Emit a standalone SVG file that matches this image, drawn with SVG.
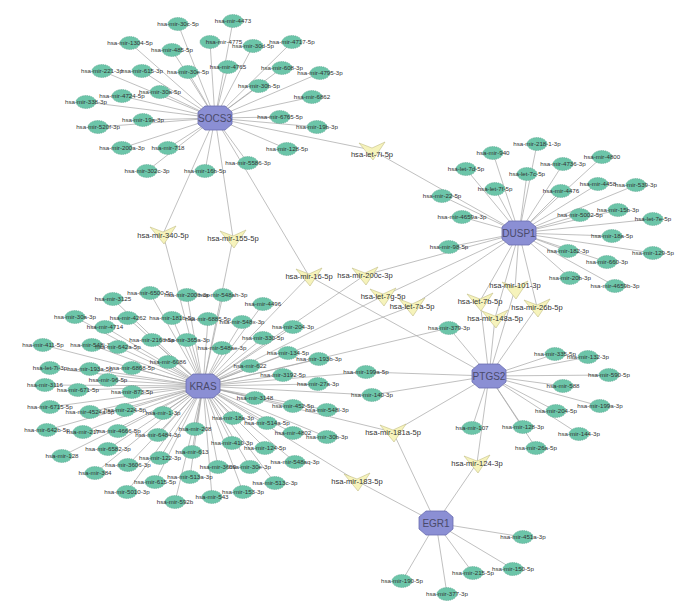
<svg xmlns="http://www.w3.org/2000/svg" xmlns:xlink="http://www.w3.org/1999/xlink" width="686" height="607" viewBox="0 0 686 607">
<style>
.e line{stroke:#a5a5a5;stroke-width:0.7}
.m{fill:#6cc5a9;stroke:#4f9e86;stroke-width:0.6;stroke-dasharray:1.3 0.9}
.h{fill:#8b8fd4;stroke:#6a6db0;stroke-width:0.8}
.y{fill:#f6f3bb;stroke:#c3bd86;stroke-width:0.6}
.t{font-family:"Liberation Sans",Arial,sans-serif;font-size:6.2px;fill:#333;text-anchor:middle}
.ty{font-family:"Liberation Sans",Arial,sans-serif;font-size:7.6px;fill:#333;text-anchor:middle}
.th{font-family:"Liberation Sans",Arial,sans-serif;font-size:10px;fill:#4a4a6a;text-anchor:middle}
</style>
<defs>
<ellipse id="gm" class="m" rx="10" ry="6.5"/>
<polygon id="oc" class="h" points="-17,-6 -10,-12 10,-12 17,-6 17,6 10,12 -10,12 -17,6"/>
<polygon id="tv" class="y" points="-13,-7 0,-2 13,-8 1,10"/>
</defs>
<rect width="686" height="607" fill="#fff"/>
<g id="connectors" class="e">
<line x1="215" y1="118" x2="178" y2="24"/><line x1="215" y1="118" x2="233" y2="21"/><line x1="215" y1="118" x2="130" y2="43"/><line x1="215" y1="118" x2="172" y2="50"/><line x1="215" y1="118" x2="210" y2="42"/><line x1="215" y1="118" x2="253" y2="46"/><line x1="215" y1="118" x2="292" y2="42"/><line x1="215" y1="118" x2="102" y2="71"/><line x1="215" y1="118" x2="142" y2="71"/><line x1="215" y1="118" x2="188" y2="72"/><line x1="215" y1="118" x2="228" y2="67"/><line x1="215" y1="118" x2="282" y2="68"/><line x1="215" y1="118" x2="320" y2="73"/><line x1="215" y1="118" x2="122" y2="96"/><line x1="215" y1="118" x2="160" y2="92"/><line x1="215" y1="118" x2="259" y2="86"/><line x1="215" y1="118" x2="86" y2="102"/><line x1="215" y1="118" x2="312" y2="97"/><line x1="215" y1="118" x2="280" y2="117"/><line x1="215" y1="118" x2="143" y2="120"/><line x1="215" y1="118" x2="98" y2="127"/><line x1="215" y1="118" x2="317" y2="127"/><line x1="215" y1="118" x2="122" y2="148"/><line x1="215" y1="118" x2="168" y2="148"/><line x1="215" y1="118" x2="287" y2="149"/><line x1="215" y1="118" x2="248" y2="163"/><line x1="215" y1="118" x2="147" y2="171"/><line x1="215" y1="118" x2="205" y2="171"/>
<line x1="215" y1="118" x2="372" y2="150"/><line x1="215" y1="118" x2="163" y2="234"/><line x1="215" y1="118" x2="233" y2="238"/><line x1="215" y1="118" x2="309" y2="276"/>
<line x1="519" y1="233" x2="537" y2="144"/><line x1="519" y1="233" x2="493" y2="153"/><line x1="519" y1="233" x2="466" y2="169"/><line x1="519" y1="233" x2="527" y2="174"/><line x1="519" y1="233" x2="563" y2="164"/><line x1="519" y1="233" x2="602" y2="157"/><line x1="519" y1="233" x2="495" y2="189"/><line x1="519" y1="233" x2="442" y2="196"/><line x1="519" y1="233" x2="561" y2="191"/><line x1="519" y1="233" x2="598" y2="184"/><line x1="519" y1="233" x2="636" y2="185"/><line x1="519" y1="233" x2="618" y2="210"/><line x1="519" y1="233" x2="580" y2="215"/><line x1="519" y1="233" x2="462" y2="217"/><line x1="519" y1="233" x2="653" y2="219"/><line x1="519" y1="233" x2="612" y2="236"/><line x1="519" y1="233" x2="449" y2="247"/><line x1="519" y1="233" x2="568" y2="251"/><line x1="519" y1="233" x2="653" y2="253"/><line x1="519" y1="233" x2="607" y2="262"/><line x1="519" y1="233" x2="570" y2="278"/><line x1="519" y1="233" x2="615" y2="286"/>
<line x1="519" y1="233" x2="372" y2="150"/><line x1="519" y1="233" x2="365" y2="275"/><line x1="519" y1="233" x2="383" y2="296"/><line x1="519" y1="233" x2="412" y2="306"/><line x1="519" y1="233" x2="515" y2="289"/><line x1="519" y1="233" x2="480" y2="301"/><line x1="519" y1="233" x2="495" y2="318"/><line x1="519" y1="233" x2="537" y2="307"/>
<line x1="203" y1="386" x2="113" y2="299"/><line x1="203" y1="386" x2="150" y2="293"/><line x1="203" y1="386" x2="187" y2="295"/><line x1="203" y1="386" x2="223" y2="295"/><line x1="203" y1="386" x2="75" y2="317"/><line x1="203" y1="386" x2="128" y2="318"/><line x1="203" y1="386" x2="172" y2="318"/><line x1="203" y1="386" x2="208" y2="319"/><line x1="203" y1="386" x2="242" y2="322"/><line x1="203" y1="386" x2="105" y2="327"/><line x1="203" y1="386" x2="263" y2="304"/><line x1="203" y1="386" x2="293" y2="327"/><line x1="203" y1="386" x2="263" y2="338"/><line x1="203" y1="386" x2="43" y2="345"/><line x1="203" y1="386" x2="92" y2="345"/><line x1="203" y1="386" x2="118" y2="347"/><line x1="203" y1="386" x2="152" y2="340"/><line x1="203" y1="386" x2="187" y2="340"/><line x1="203" y1="386" x2="222" y2="348"/><line x1="203" y1="386" x2="168" y2="362"/><line x1="203" y1="386" x2="50" y2="368"/><line x1="203" y1="386" x2="90" y2="369"/><line x1="203" y1="386" x2="132" y2="368"/><line x1="203" y1="386" x2="108" y2="380"/><line x1="203" y1="386" x2="45" y2="385"/><line x1="203" y1="386" x2="78" y2="390"/><line x1="203" y1="386" x2="132" y2="392"/><line x1="203" y1="386" x2="50" y2="407"/><line x1="203" y1="386" x2="90" y2="412"/><line x1="203" y1="386" x2="125" y2="410"/><line x1="203" y1="386" x2="163" y2="413"/><line x1="203" y1="386" x2="47" y2="430"/><line x1="203" y1="386" x2="83" y2="432"/><line x1="203" y1="386" x2="118" y2="431"/><line x1="203" y1="386" x2="195" y2="429"/><line x1="203" y1="386" x2="158" y2="435"/><line x1="203" y1="386" x2="288" y2="353"/><line x1="203" y1="386" x2="319" y2="359"/><line x1="203" y1="386" x2="250" y2="366"/><line x1="203" y1="386" x2="283" y2="375"/><line x1="203" y1="386" x2="318" y2="384"/><line x1="203" y1="386" x2="255" y2="398"/><line x1="203" y1="386" x2="293" y2="406"/><line x1="203" y1="386" x2="327" y2="410"/><line x1="203" y1="386" x2="233" y2="418"/><line x1="203" y1="386" x2="267" y2="423"/><line x1="203" y1="386" x2="293" y2="433"/><line x1="203" y1="386" x2="327" y2="437"/><line x1="203" y1="386" x2="232" y2="443"/><line x1="203" y1="386" x2="108" y2="449"/><line x1="203" y1="386" x2="265" y2="448"/><line x1="203" y1="386" x2="192" y2="452"/><line x1="203" y1="386" x2="160" y2="458"/><line x1="203" y1="386" x2="128" y2="465"/><line x1="203" y1="386" x2="218" y2="467"/><line x1="203" y1="386" x2="250" y2="467"/><line x1="203" y1="386" x2="295" y2="462"/><line x1="203" y1="386" x2="95" y2="473"/><line x1="203" y1="386" x2="190" y2="477"/><line x1="203" y1="386" x2="155" y2="482"/><line x1="203" y1="386" x2="275" y2="483"/><line x1="203" y1="386" x2="127" y2="492"/><line x1="203" y1="386" x2="212" y2="497"/><line x1="203" y1="386" x2="243" y2="492"/><line x1="203" y1="386" x2="175" y2="502"/><line x1="203" y1="386" x2="62" y2="456"/><line x1="203" y1="386" x2="366" y2="372"/><line x1="203" y1="386" x2="372" y2="395"/><line x1="203" y1="386" x2="449" y2="328"/>
<line x1="203" y1="386" x2="163" y2="234"/><line x1="203" y1="386" x2="233" y2="238"/><line x1="203" y1="386" x2="309" y2="276"/><line x1="203" y1="386" x2="365" y2="275"/><line x1="203" y1="386" x2="383" y2="296"/><line x1="203" y1="386" x2="412" y2="306"/><line x1="203" y1="386" x2="393" y2="432"/><line x1="203" y1="386" x2="357" y2="481"/>
<line x1="489" y1="376" x2="555" y2="354"/><line x1="489" y1="376" x2="588" y2="357"/><line x1="489" y1="376" x2="609" y2="375"/><line x1="489" y1="376" x2="563" y2="386"/><line x1="489" y1="376" x2="600" y2="406"/><line x1="489" y1="376" x2="556" y2="411"/><line x1="489" y1="376" x2="472" y2="428"/><line x1="489" y1="376" x2="523" y2="427"/><line x1="489" y1="376" x2="579" y2="434"/><line x1="489" y1="376" x2="536" y2="448"/><line x1="489" y1="376" x2="366" y2="372"/><line x1="489" y1="376" x2="372" y2="395"/><line x1="489" y1="376" x2="449" y2="328"/>
<line x1="489" y1="376" x2="309" y2="276"/><line x1="489" y1="376" x2="515" y2="289"/><line x1="489" y1="376" x2="480" y2="301"/><line x1="489" y1="376" x2="495" y2="318"/><line x1="489" y1="376" x2="537" y2="307"/><line x1="489" y1="376" x2="393" y2="432"/><line x1="489" y1="376" x2="477" y2="463"/>
<line x1="436" y1="523" x2="523" y2="537"/><line x1="436" y1="523" x2="513" y2="569"/><line x1="436" y1="523" x2="473" y2="573"/><line x1="436" y1="523" x2="402" y2="581"/><line x1="436" y1="523" x2="447" y2="594"/><line x1="436" y1="523" x2="393" y2="432"/><line x1="436" y1="523" x2="477" y2="463"/><line x1="436" y1="523" x2="357" y2="481"/>
</g>
<g id="mirna-targets">
<g id="s1" transform="translate(178 24)"><use href="#gm"/><text class="t" y="2.2">hsa-mir-30c-5p</text></g>
<g id="s2" transform="translate(233 21)"><use href="#gm"/><text class="t" y="2.2">hsa-mir-4473</text></g>
<g id="s3" transform="translate(130 43)"><use href="#gm"/><text class="t" y="2.2">hsa-mir-1304-5p</text></g>
<g id="s4" transform="translate(172 50)"><use href="#gm"/><text class="t" y="2.2">hsa-mir-485-5p</text></g>
<g id="s5" transform="translate(210 42)"><use href="#gm"/><text class="t" x="14" y="2.2">hsa-mir-4775</text></g>
<g id="s6" transform="translate(253 46)"><use href="#gm"/><text class="t" y="2.2">hsa-mir-30d-5p</text></g>
<g id="s7" transform="translate(292 42)"><use href="#gm"/><text class="t" y="2.2">hsa-mir-4717-5p</text></g>
<g id="s8" transform="translate(102 71)"><use href="#gm"/><text class="t" y="2.2">hsa-mir-221-3p</text></g>
<g id="s9" transform="translate(142 71)"><use href="#gm"/><text class="t" y="2.2">hsa-mir-615-3p</text></g>
<g id="s10" transform="translate(188 72)"><use href="#gm"/><text class="t" y="2.2">hsa-mir-30e-5p</text></g>
<g id="s11" transform="translate(228 67)"><use href="#gm"/><text class="t" y="2.2">hsa-mir-4765</text></g>
<g id="s12" transform="translate(282 68)"><use href="#gm"/><text class="t" y="2.2">hsa-mir-608-3p</text></g>
<g id="s13" transform="translate(320 73)"><use href="#gm"/><text class="t" y="2.2">hsa-mir-4795-3p</text></g>
<g id="s14" transform="translate(122 96)"><use href="#gm"/><text class="t" y="2.2">hsa-mir-4724-5p</text></g>
<g id="s15" transform="translate(160 92)"><use href="#gm"/><text class="t" y="2.2">hsa-mir-30a-5p</text></g>
<g id="s16" transform="translate(259 86)"><use href="#gm"/><text class="t" y="2.2">hsa-mir-30b-5p</text></g>
<g id="s17" transform="translate(86 102)"><use href="#gm"/><text class="t" y="2.2">hsa-mir-338-3p</text></g>
<g id="s18" transform="translate(312 97)"><use href="#gm"/><text class="t" y="2.2">hsa-mir-6862</text></g>
<g id="s19" transform="translate(280 117)"><use href="#gm"/><text class="t" y="2.2">hsa-mir-6765-5p</text></g>
<g id="s20" transform="translate(143 120)"><use href="#gm"/><text class="t" y="2.2">hsa-mir-19a-3p</text></g>
<g id="s21" transform="translate(98 127)"><use href="#gm"/><text class="t" y="2.2">hsa-mir-520f-3p</text></g>
<g id="s22" transform="translate(317 127)"><use href="#gm"/><text class="t" y="2.2">hsa-mir-19b-3p</text></g>
<g id="s23" transform="translate(122 148)"><use href="#gm"/><text class="t" y="2.2">hsa-mir-200a-3p</text></g>
<g id="s24" transform="translate(168 148)"><use href="#gm"/><text class="t" y="2.2">hsa-mir-718</text></g>
<g id="s25" transform="translate(287 149)"><use href="#gm"/><text class="t" y="2.2">hsa-mir-128-5p</text></g>
<g id="s26" transform="translate(248 163)"><use href="#gm"/><text class="t" y="2.2">hsa-mir-5586-3p</text></g>
<g id="s27" transform="translate(147 171)"><use href="#gm"/><text class="t" y="2.2">hsa-mir-302c-3p</text></g>
<g id="s28" transform="translate(205 171)"><use href="#gm"/><text class="t" y="2.2">hsa-mir-16b-5p</text></g>
<g id="d1" transform="translate(537 144)"><use href="#gm"/><text class="t" y="2.2">hsa-mir-218-1-3p</text></g>
<g id="d2" transform="translate(493 153)"><use href="#gm"/><text class="t" y="2.2">hsa-mir-940</text></g>
<g id="d3" transform="translate(466 169)"><use href="#gm"/><text class="t" y="2.2">hsa-let-7d-5p</text></g>
<g id="d4" transform="translate(527 174)"><use href="#gm"/><text class="t" y="2.2">hsa-let-7c-5p</text></g>
<g id="d5" transform="translate(563 164)"><use href="#gm"/><text class="t" y="2.2">hsa-mir-4736-3p</text></g>
<g id="d6" transform="translate(602 157)"><use href="#gm"/><text class="t" y="2.2">hsa-mir-4800</text></g>
<g id="d7" transform="translate(495 189)"><use href="#gm"/><text class="t" y="2.2">hsa-let-7f-5p</text></g>
<g id="d8" transform="translate(442 196)"><use href="#gm"/><text class="t" y="2.2">hsa-mir-22-5p</text></g>
<g id="d9" transform="translate(561 191)"><use href="#gm"/><text class="t" y="2.2">hsa-mir-4476</text></g>
<g id="d10" transform="translate(598 184)"><use href="#gm"/><text class="t" y="2.2">hsa-mir-4458</text></g>
<g id="d11" transform="translate(636 185)"><use href="#gm"/><text class="t" y="2.2">hsa-mir-539-3p</text></g>
<g id="d12" transform="translate(618 210)"><use href="#gm"/><text class="t" y="2.2">hsa-mir-15b-3p</text></g>
<g id="d13" transform="translate(580 215)"><use href="#gm"/><text class="t" y="2.2">hsa-mir-5002-5p</text></g>
<g id="d14" transform="translate(462 217)"><use href="#gm"/><text class="t" y="2.2">hsa-mir-4659a-3p</text></g>
<g id="d15" transform="translate(653 219)"><use href="#gm"/><text class="t" y="2.2">hsa-let-7e-5p</text></g>
<g id="d16" transform="translate(612 236)"><use href="#gm"/><text class="t" y="2.2">hsa-mir-18a-5p</text></g>
<g id="d17" transform="translate(449 247)"><use href="#gm"/><text class="t" y="2.2">hsa-mir-98-5p</text></g>
<g id="d18" transform="translate(568 251)"><use href="#gm"/><text class="t" y="2.2">hsa-mir-182-3p</text></g>
<g id="d19" transform="translate(653 253)"><use href="#gm"/><text class="t" y="2.2">hsa-mir-129-5p</text></g>
<g id="d20" transform="translate(607 262)"><use href="#gm"/><text class="t" y="2.2">hsa-mir-660-3p</text></g>
<g id="d21" transform="translate(570 278)"><use href="#gm"/><text class="t" y="2.2">hsa-mir-20b-3p</text></g>
<g id="d22" transform="translate(615 286)"><use href="#gm"/><text class="t" y="2.2">hsa-mir-4659b-3p</text></g>
<g id="k1" transform="translate(113 299)"><use href="#gm"/><text class="t" y="2.2">hsa-mir-3125</text></g>
<g id="k2" transform="translate(150 293)"><use href="#gm"/><text class="t" y="2.2">hsa-mir-6500-5p</text></g>
<g id="k3" transform="translate(187 295)"><use href="#gm"/><text class="t" y="2.2">hsa-mir-200b-3p</text></g>
<g id="k4" transform="translate(223 295)"><use href="#gm"/><text class="t" y="2.2">hsa-mir-548ah-3p</text></g>
<g id="k5" transform="translate(75 317)"><use href="#gm"/><text class="t" y="2.2">hsa-mir-30a-3p</text></g>
<g id="k6" transform="translate(128 318)"><use href="#gm"/><text class="t" y="2.2">hsa-mir-4262</text></g>
<g id="k7" transform="translate(172 318)"><use href="#gm"/><text class="t" y="2.2">hsa-mir-181b-5p</text></g>
<g id="k8" transform="translate(208 319)"><use href="#gm"/><text class="t" y="2.2">hsa-mir-6885-5p</text></g>
<g id="k9" transform="translate(242 322)"><use href="#gm"/><text class="t" y="2.2">hsa-mir-548x-3p</text></g>
<g id="k10" transform="translate(105 327)"><use href="#gm"/><text class="t" y="2.2">hsa-mir-4714</text></g>
<g id="k11" transform="translate(263 304)"><use href="#gm"/><text class="t" y="2.2">hsa-mir-4496</text></g>
<g id="k12" transform="translate(293 327)"><use href="#gm"/><text class="t" y="2.2">hsa-mir-204-3p</text></g>
<g id="k13" transform="translate(263 338)"><use href="#gm"/><text class="t" y="2.2">hsa-mir-330-5p</text></g>
<g id="k14" transform="translate(43 345)"><use href="#gm"/><text class="t" y="2.2">hsa-mir-411-5p</text></g>
<g id="k15" transform="translate(92 345)"><use href="#gm"/><text class="t" y="2.2">hsa-mir-548i-3p</text></g>
<g id="k16" transform="translate(118 347)"><use href="#gm"/><text class="t" y="2.2">hsa-mir-642a-5p</text></g>
<g id="k17" transform="translate(152 340)"><use href="#gm"/><text class="t" y="2.2">hsa-mir-216b-5p</text></g>
<g id="k18" transform="translate(187 340)"><use href="#gm"/><text class="t" y="2.2">hsa-mir-365a-3p</text></g>
<g id="k19" transform="translate(222 348)"><use href="#gm"/><text class="t" y="2.2">hsa-mir-548ae-3p</text></g>
<g id="k20" transform="translate(168 362)"><use href="#gm"/><text class="t" y="2.2">hsa-mir-6086</text></g>
<g id="k21" transform="translate(50 368)"><use href="#gm"/><text class="t" y="2.2">hsa-let-7i-3p</text></g>
<g id="k22" transform="translate(90 369)"><use href="#gm"/><text class="t" y="2.2">hsa-mir-193a-5p</text></g>
<g id="k23" transform="translate(132 368)"><use href="#gm"/><text class="t" y="2.2">hsa-mir-6868-5p</text></g>
<g id="k24" transform="translate(108 380)"><use href="#gm"/><text class="t" y="2.2">hsa-mir-96-5p</text></g>
<g id="k25" transform="translate(45 385)"><use href="#gm"/><text class="t" y="2.2">hsa-mir-3116</text></g>
<g id="k26" transform="translate(78 390)"><use href="#gm"/><text class="t" y="2.2">hsa-mir-671-5p</text></g>
<g id="k27" transform="translate(132 392)"><use href="#gm"/><text class="t" y="2.2">hsa-mir-873-5p</text></g>
<g id="k28" transform="translate(50 407)"><use href="#gm"/><text class="t" y="2.2">hsa-mir-6715-5p</text></g>
<g id="k29" transform="translate(90 412)"><use href="#gm"/><text class="t" y="2.2">hsa-mir-4524a-5p</text></g>
<g id="k30" transform="translate(125 410)"><use href="#gm"/><text class="t" y="2.2">hsa-mir-224-5p</text></g>
<g id="k31" transform="translate(163 413)"><use href="#gm"/><text class="t" y="2.2">hsa-mir-1-3p</text></g>
<g id="k32" transform="translate(47 430)"><use href="#gm"/><text class="t" y="2.2">hsa-mir-642b-5p</text></g>
<g id="k33" transform="translate(83 432)"><use href="#gm"/><text class="t" y="2.2">hsa-mir-217</text></g>
<g id="k34" transform="translate(118 431)"><use href="#gm"/><text class="t" y="2.2">hsa-mir-4666-5p</text></g>
<g id="k35" transform="translate(195 429)"><use href="#gm"/><text class="t" y="2.2">hsa-mir-208</text></g>
<g id="k36" transform="translate(158 435)"><use href="#gm"/><text class="t" y="2.2">hsa-mir-6484-3p</text></g>
<g id="k37" transform="translate(288 353)"><use href="#gm"/><text class="t" y="2.2">hsa-mir-134-5p</text></g>
<g id="k38" transform="translate(319 359)"><use href="#gm"/><text class="t" y="2.2">hsa-mir-193b-3p</text></g>
<g id="k39" transform="translate(250 366)"><use href="#gm"/><text class="t" y="2.2">hsa-mir-622</text></g>
<g id="k40" transform="translate(283 375)"><use href="#gm"/><text class="t" y="2.2">hsa-mir-3192-5p</text></g>
<g id="k41" transform="translate(318 384)"><use href="#gm"/><text class="t" y="2.2">hsa-mir-27a-3p</text></g>
<g id="k42" transform="translate(255 398)"><use href="#gm"/><text class="t" y="2.2">hsa-mir-3148</text></g>
<g id="k43" transform="translate(293 406)"><use href="#gm"/><text class="t" y="2.2">hsa-mir-452-5p</text></g>
<g id="k44" transform="translate(327 410)"><use href="#gm"/><text class="t" y="2.2">hsa-mir-548l-3p</text></g>
<g id="k45" transform="translate(233 418)"><use href="#gm"/><text class="t" y="2.2">hsa-mir-18a-3p</text></g>
<g id="k46" transform="translate(267 423)"><use href="#gm"/><text class="t" y="2.2">hsa-mir-514a-5p</text></g>
<g id="k47" transform="translate(293 433)"><use href="#gm"/><text class="t" y="2.2">hsa-mir-4802</text></g>
<g id="k48" transform="translate(327 437)"><use href="#gm"/><text class="t" y="2.2">hsa-mir-30b-3p</text></g>
<g id="k49" transform="translate(232 443)"><use href="#gm"/><text class="t" y="2.2">hsa-mir-410-3p</text></g>
<g id="k50" transform="translate(108 449)"><use href="#gm"/><text class="t" y="2.2">hsa-mir-6582-3p</text></g>
<g id="k51" transform="translate(265 448)"><use href="#gm"/><text class="t" y="2.2">hsa-mir-124-5p</text></g>
<g id="k52" transform="translate(192 452)"><use href="#gm"/><text class="t" y="2.2">hsa-mir-613</text></g>
<g id="k53" transform="translate(160 458)"><use href="#gm"/><text class="t" y="2.2">hsa-mir-122-3p</text></g>
<g id="k54" transform="translate(128 465)"><use href="#gm"/><text class="t" y="2.2">hsa-mir-3606-3p</text></g>
<g id="k55" transform="translate(218 467)"><use href="#gm"/><text class="t" y="2.2">hsa-mir-3609</text></g>
<g id="k56" transform="translate(250 467)"><use href="#gm"/><text class="t" y="2.2">hsa-mir-30e-3p</text></g>
<g id="k57" transform="translate(295 462)"><use href="#gm"/><text class="t" y="2.2">hsa-mir-548aq-3p</text></g>
<g id="k58" transform="translate(95 473)"><use href="#gm"/><text class="t" y="2.2">hsa-mir-384</text></g>
<g id="k59" transform="translate(190 477)"><use href="#gm"/><text class="t" y="2.2">hsa-mir-513a-3p</text></g>
<g id="k60" transform="translate(155 482)"><use href="#gm"/><text class="t" y="2.2">hsa-mir-615-5p</text></g>
<g id="k61" transform="translate(275 483)"><use href="#gm"/><text class="t" y="2.2">hsa-mir-513c-3p</text></g>
<g id="k62" transform="translate(127 492)"><use href="#gm"/><text class="t" y="2.2">hsa-mir-5010-3p</text></g>
<g id="k63" transform="translate(212 497)"><use href="#gm"/><text class="t" y="2.2">hsa-mir-543</text></g>
<g id="k64" transform="translate(243 492)"><use href="#gm"/><text class="t" y="2.2">hsa-mir-153-3p</text></g>
<g id="k65" transform="translate(175 502)"><use href="#gm"/><text class="t" y="2.2">hsa-mir-592b</text></g>
<g id="k66" transform="translate(62 456)"><use href="#gm"/><text class="t" y="2.2">hsa-mir-128</text></g>
<g id="k67" transform="translate(366 372)"><use href="#gm"/><text class="t" y="2.2">hsa-mir-199a-5p</text></g>
<g id="k68" transform="translate(372 395)"><use href="#gm"/><text class="t" y="2.2">hsa-mir-140-3p</text></g>
<g id="k69" transform="translate(449 328)"><use href="#gm"/><text class="t" y="2.2">hsa-mir-379-3p</text></g>
<g id="p1" transform="translate(555 354)"><use href="#gm"/><text class="t" y="2.2">hsa-mir-335-5p</text></g>
<g id="p2" transform="translate(588 357)"><use href="#gm"/><text class="t" y="2.2">hsa-mir-132-3p</text></g>
<g id="p3" transform="translate(609 375)"><use href="#gm"/><text class="t" y="2.2">hsa-mir-590-5p</text></g>
<g id="p4" transform="translate(563 386)"><use href="#gm"/><text class="t" y="2.2">hsa-mir-588</text></g>
<g id="p5" transform="translate(600 406)"><use href="#gm"/><text class="t" y="2.2">hsa-mir-199a-3p</text></g>
<g id="p6" transform="translate(556 411)"><use href="#gm"/><text class="t" y="2.2">hsa-mir-204-5p</text></g>
<g id="p7" transform="translate(472 428)"><use href="#gm"/><text class="t" y="2.2">hsa-mir-107</text></g>
<g id="p8" transform="translate(523 427)"><use href="#gm"/><text class="t" y="2.2">hsa-mir-128-3p</text></g>
<g id="p9" transform="translate(579 434)"><use href="#gm"/><text class="t" y="2.2">hsa-mir-144-3p</text></g>
<g id="p10" transform="translate(536 448)"><use href="#gm"/><text class="t" y="2.2">hsa-mir-26a-5p</text></g>
<g id="e1" transform="translate(523 537)"><use href="#gm"/><text class="t" y="2.2">hsa-mir-451a-3p</text></g>
<g id="e2" transform="translate(513 569)"><use href="#gm"/><text class="t" y="2.2">hsa-mir-150-5p</text></g>
<g id="e3" transform="translate(473 573)"><use href="#gm"/><text class="t" y="2.2">hsa-mir-215-5p</text></g>
<g id="e4" transform="translate(402 581)"><use href="#gm"/><text class="t" y="2.2">hsa-mir-190-5p</text></g>
<g id="e5" transform="translate(447 594)"><use href="#gm"/><text class="t" y="2.2">hsa-mir-377-3p</text></g>
</g>
<g id="shared-mirnas">
<g id="y1" transform="translate(372 150)"><use href="#tv"/><text class="ty" y="7">hsa-let-7i-5p</text></g>
<g id="y2" transform="translate(163 234)"><use href="#tv"/><text class="ty" y="4">hsa-mir-340-5p</text></g>
<g id="y3" transform="translate(233 238)"><use href="#tv"/><text class="ty" y="3">hsa-mir-155-5p</text></g>
<g id="y4" transform="translate(309 276)"><use href="#tv"/><text class="ty" y="2.5">hsa-mir-16-5p</text></g>
<g id="y5" transform="translate(365 275)"><use href="#tv"/><text class="ty" y="2.5">hsa-mir-200c-3p</text></g>
<g id="y6" transform="translate(383 296)"><use href="#tv"/><text class="ty" y="2.5">hsa-let-7g-5p</text></g>
<g id="y7" transform="translate(412 306)"><use href="#tv"/><text class="ty" y="2.5">hsa-let-7a-5p</text></g>
<g id="y8" transform="translate(515 289)"><use href="#tv"/><text class="ty" y="-1">hsa-mir-101-3p</text></g>
<g id="y9" transform="translate(480 301)"><use href="#tv"/><text class="ty" y="2.5">hsa-let-7b-5p</text></g>
<g id="y10" transform="translate(495 318)"><use href="#tv"/><text class="ty" y="2.5">hsa-mir-148a-5p</text></g>
<g id="y11" transform="translate(537 307)"><use href="#tv"/><text class="ty" y="2.5">hsa-mir-26b-5p</text></g>
<g id="y12" transform="translate(393 432)"><use href="#tv"/><text class="ty" y="2.5">hsa-mir-181a-5p</text></g>
<g id="y13" transform="translate(477 463)"><use href="#tv"/><text class="ty" y="2.5">hsa-mir-124-3p</text></g>
<g id="y14" transform="translate(357 481)"><use href="#tv"/><text class="ty" y="2.5">hsa-mir-183-5p</text></g>
</g>
<g id="SOCS3" transform="translate(215 118)"><use href="#oc"/><text class="th" y="3.5">SOCS3</text></g>
<g id="DUSP1" transform="translate(519 233)"><use href="#oc"/><text class="th" y="3.5">DUSP1</text></g>
<g id="KRAS" transform="translate(203 386)"><use href="#oc"/><text class="th" y="3.5">KRAS</text></g>
<g id="PTGS2" transform="translate(489 376)"><use href="#oc"/><text class="th" y="3.5">PTGS2</text></g>
<g id="EGR1" transform="translate(436 523)"><use href="#oc"/><text class="th" y="3.5">EGR1</text></g>
</svg>
